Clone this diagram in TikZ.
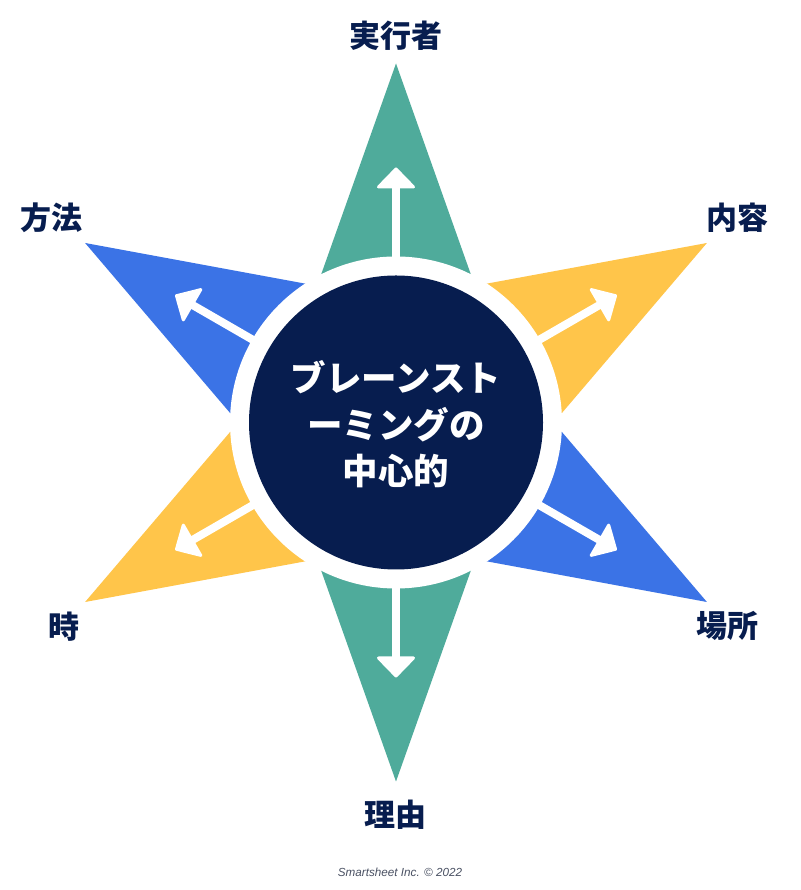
\documentclass[tikz,border=0pt]{standalone}
\usepackage{fontspec}
\newfontfamily\cjk{Noto Sans CJK JP}
\setsansfont{Liberation Sans}
\definecolor{teal1}{HTML}{4FAB9B}
\definecolor{blue1}{HTML}{3B73E6}
\definecolor{yellow1}{HTML}{FFC54A}
\definecolor{navy1}{HTML}{071D4F}
\definecolor{gray1}{HTML}{4A5163}
\tikzset{
  lbl/.style={font=\cjk\bfseries\fontsize{31}{34}\selectfont, text=navy1, inner sep=0pt},
  centertxt/.style={font=\cjk\bfseries\fontsize{35.5}{46.5}\selectfont, text=white, align=center, inner sep=0pt},
  shaft/.style={white, line width=8pt},
  headtip/.style={fill=white, draw=white, line width=3pt, line join=round},
  foot/.style={font=\sffamily\itshape\fontsize{11.7}{13}\selectfont, text=gray1, inner sep=0pt}
}
\begin{document}
\begin{tikzpicture}[x=1pt,y=1pt]
\useasboundingbox (0,0) rectangle (800,890);
\fill[white] (0,0) rectangle (800,890);
\coordinate (c) at (396,467.5);
% star points
\foreach \a/\col in {90/teal1,-90/teal1,30/yellow1,210/yellow1,150/blue1,-30/blue1}{
  \begin{scope}[shift={(c)}, rotate=\a]
    \fill[\col] (359,0) -- (0,127.4) -- (0,-127.4) -- cycle;
  \end{scope}
}
% white ring
\fill[white] (c) circle[radius=166];
% arrows
\foreach \a in {90,-90,30,210,150,-30}{
  \begin{scope}[shift={(c)}, rotate=\a]
    \coordinate (s) at (150,0);
    \coordinate (e) at (238,0);
    \draw[shaft] (s) -- (e);
    \filldraw[headtip] (253.5,0) -- (235.5,17.5) -- (235.5,-17.5) -- cycle;
  \end{scope}
}
% center
\node[circle, fill=navy1, minimum size=294pt, inner sep=0pt] (hub) at (c) {};
\node[centertxt] (title) at (396,465.5) {ブレーンスト\\ーミングの\\中心的};
% labels
\node[lbl] (l1) at (396,854) {実行者};
\node[lbl] (l2) at (737.5,672) {内容};
\node[lbl] (l3) at (727,264) {場所};
\node[lbl] (l4) at (395,75) {理由};
\node[lbl] (l5) at (63.5,263) {時};
\node[lbl] (l6) at (51.5,672) {方法};
\node[foot] (ft) at (400,18) {Smartsheet Inc. © 2022};
\end{tikzpicture}
\end{document}
